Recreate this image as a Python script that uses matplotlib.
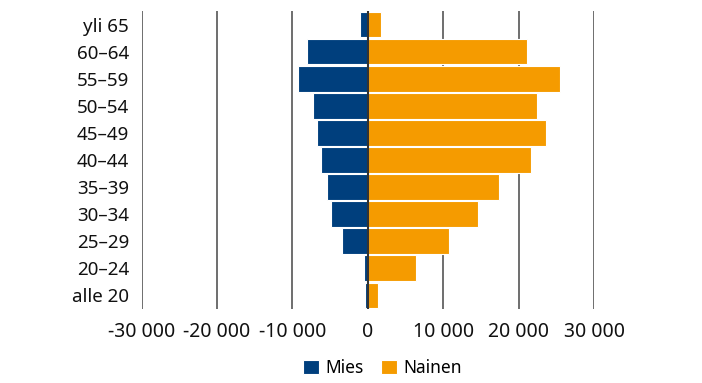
import matplotlib
matplotlib.use("Agg")
import matplotlib.pyplot as plt
from matplotlib.ticker import FuncFormatter, FixedLocator

# Age groups, top to bottom as shown
ages = ["yli 65", "60–64", "55–59", "50–54", "45–49", "40–44",
        "35–39", "30–34", "25–29", "20–24", "alle 20"]
mies = [-1060, -8020, -9300, -7270, -6740, -6200, -5410, -4920, -3410, -530, -360]
nainen = [1770, 21050, 25490, 22380, 23670, 21590, 17460, 14630, 10810, 6430, 1290]
xticks = [-30000, -20000, -10000, 0, 10000, 20000, 30000]

plt.rcParams['font.family'] = ['Noto Sans', 'DejaVu Sans']

fig = plt.figure(figsize=(7.02, 3.83), dpi=100)
ax = fig.add_axes([0.2016, 0.1932, 0.6446, 0.7781])

pos = list(range(len(ages)))[::-1]
ax.barh(pos, mies, height=0.95, color='#003f7d', edgecolor='white', linewidth=0.8,
        label='Mies', zorder=2)
ax.barh(pos, nainen, height=0.95, color='#f59b00', edgecolor='white', linewidth=0.8,
        label='Nainen', zorder=2)

ax.set_xlim(-30000, 30000)
ax.set_ylim(-0.5, len(ages) - 0.5)
ax.xaxis.set_major_locator(FixedLocator(xticks))
ax.xaxis.set_major_formatter(FuncFormatter(
    lambda v, p: ("-" if v < 0 else "") + f"{abs(int(v)):,}".replace(",", " ")))
ax.set_yticks(pos)
ax.set_yticklabels(ages)

ax.grid(axis='x', color='#555555', linewidth=1.2, zorder=1)
ax.axvline(0, color='#333333', linewidth=1.5, zorder=3)
for s in ax.spines.values():
    s.set_visible(False)
ax.tick_params(axis='both', length=0)
ax.tick_params(axis='y', labelsize=13.5, pad=9, colors='#111111')
ax.tick_params(axis='x', labelsize=14, pad=9, colors='#111111')

fig.legend(loc='lower center', bbox_to_anchor=(0.545, -0.025), ncol=2, frameon=False,
           fontsize=12.5, handlelength=0.9, handleheight=0.9, handletextpad=0.4,
           columnspacing=1.0)

fig.savefig("out.png", dpi=100)
